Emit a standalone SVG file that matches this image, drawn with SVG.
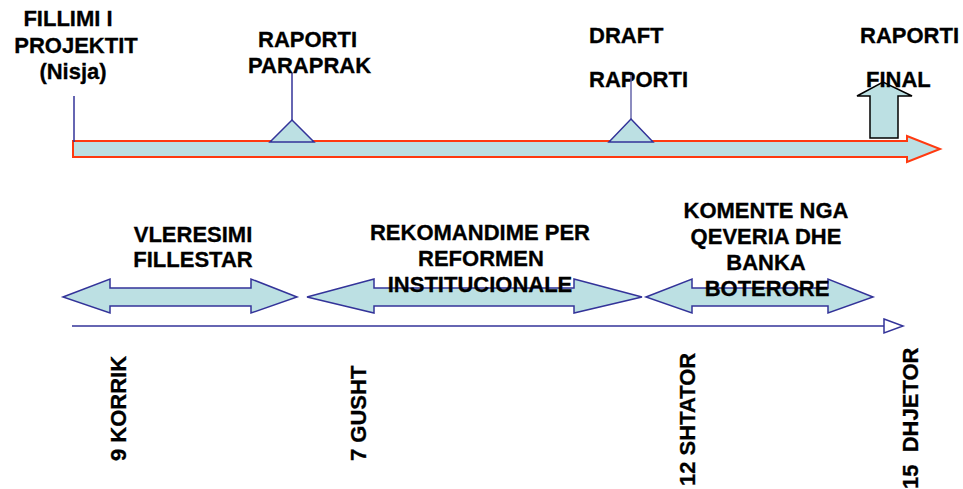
<svg xmlns="http://www.w3.org/2000/svg" width="963" height="489" viewBox="0 0 963 489">
<style>
.t{font-family:"Liberation Sans",Arial,sans-serif;font-weight:bold;font-size:22px;fill:#000;stroke:#000;stroke-width:0.3}
.m{text-anchor:middle}
.fill{fill:#BCE0E3}
.blue{stroke:#333399;stroke-width:1.5}
.ln{stroke:#333399;stroke-width:1.5;fill:none}
</style>
<rect width="963" height="489" fill="#fff"/>
<g id="timeline">
<path d="M73,141 H907 V136 L940,149 L907,162 V157 H73 Z" fill="#BCE0E3" stroke="#FF3A10" stroke-width="2"/>
</g>
<g id="start">
<line x1="74" y1="96" x2="74" y2="142" class="ln"/>
<text class="t m" x="68" y="26">FILLIMI I</text>
<text class="t m" x="76" y="52.5">PROJEKTIT</text>
<text class="t m" x="73" y="79">(Nisja)</text>
</g>
<g id="raporti-paraprak">
<line x1="292" y1="73" x2="292" y2="120" class="ln"/>
<path d="M292,120 L314,142 L270,142 Z" class="fill blue"/>
<text class="t" x="258" y="47">RAPORTI</text>
<text class="t" x="248" y="73">PARAPRAK</text>
</g>
<g id="draft-raporti">
<text class="t" x="589" y="43">DRAFT</text>
<text class="t" x="589" y="87">RAPORTI</text>
<line x1="631" y1="75" x2="631" y2="119" stroke="#6666AA" stroke-width="1.5"/>
<path d="M631,119 L653,142 L609,142 Z" class="fill blue"/>
</g>
<g id="raporti-final">
<path d="M870,138 V96 H857 L883,82 L912,96 H898 V138 Z" fill="#BCE0E3" stroke="#000" stroke-width="1.5"/>
<text class="t" x="860" y="43">RAPORTI</text>
<text class="t" x="866" y="87">FINAL</text>
</g>
<g id="vleresimi">
<path d="M63,297 L110,279 V288 H251 V279 L297,297 L251,313 V306 H110 V313 Z" class="fill blue"/>
<text class="t m" x="193" y="242">VLERESIMI</text>
<text class="t m" x="193" y="267">FILLESTAR</text>
</g>
<g id="rekomandime">
<path d="M307,297 L374,279 V288 H574 V279 L642,297 L574,313 V306 H374 V313 Z" class="fill blue"/>
<text class="t m" x="480" y="240">REKOMANDIME PER</text>
<text class="t m" x="481" y="266">REFORMEN</text>
<text class="t m" x="480" y="292">INSTITUCIONALE</text>
</g>
<g id="komente">
<path d="M646,297 L692,279 V288 H828 V279 L873,297 L828,313 V306 H692 V313 Z" class="fill blue"/>
<text class="t m" x="766" y="218">KOMENTE NGA</text>
<text class="t m" x="766" y="244">QEVERIA DHE</text>
<text class="t m" x="766" y="270">BANKA</text>
<text class="t m" x="767" y="296">BOTERORE</text>
</g>
<g id="connectors">
<line x1="72" y1="326" x2="884" y2="326" class="ln"/>
<path d="M884,319 L903,326 L884,333 Z" fill="#fff" class="blue"/>
</g>
<g id="dates">
<text class="t" transform="translate(126,461) rotate(-90)">9 KORRIK</text>
<text class="t" transform="translate(366,461) rotate(-90)">7 GUSHT</text>
<text class="t" transform="translate(695,486) rotate(-90)">12 SHTATOR</text>
<text class="t" transform="translate(918,489) rotate(-90)" xml:space="preserve">15  DHJETOR</text>
</g>
</svg>
